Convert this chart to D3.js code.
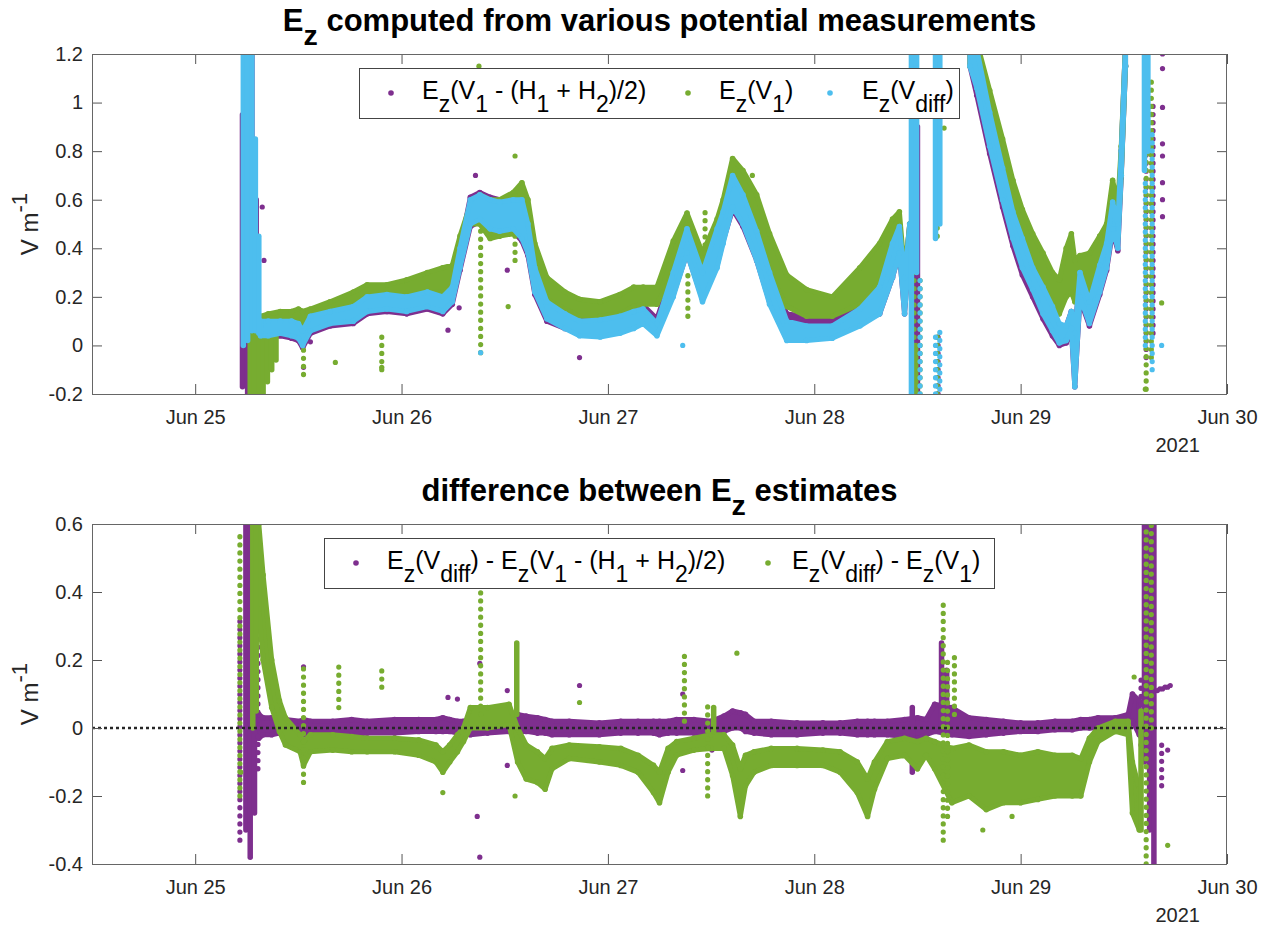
<!DOCTYPE html>
<html><head><meta charset="utf-8">
<script src="https://cdn.jsdelivr.net/npm/d3@7"></script>
<style>
body{margin:0;background:#fff}
text{font-family:"Liberation Sans",Arial,Helvetica,sans-serif;white-space:pre}
</style>
</head><body>
<svg id="c" width="1270" height="926"></svg>
<script>
// ---------------- DATA (hours after 2021-06-25 00:00 UTC) ----------------
const X_TICK_DAYS = ["2021-06-25","2021-06-26","2021-06-27","2021-06-28","2021-06-29","2021-06-30"];
const TOP_Y_TICKS = [-0.2,0,0.2,0.4,0.6,0.8,1,1.2];
const BOT_Y_TICKS = [-0.4,-0.2,0,0.2,0.4,0.6];

// top panel: band envelopes (low / high edge of the dense dot cloud)
const TOP_HOURS = [7.6,8.5,9.9,11.2,12.0,12.5,13.4,15.7,18.4,20.0, 22.3,24.6,27.0,28.8,29.9,30.8,32.0,33.1,34.3,35.4, 37.0,38.0,38.7,39.5,40.9,43.0,44.7,47.1,49.4,51.0, 52.1,53.7,55.6,57.2,59.0,60.7,61.4,62.5,63.7,65.3, 66.8,68.8,71.1,74.1,77.3,79.6,81.1,81.9,82.5,83.1, 85.5, 90.1,90.9,92.4,93.9,95.1,96.2,97.4,98.6,99.7, 100.5,101.3,101.9,102.3,102.9,104.0,105.2,106.0,106.7,107.3, 107.7,108.2];

const PURPLE_LO = [0.03,0.03,0.04,0.03,0.02,-0.01,0.05,0.08,0.09,0.13, 0.14,0.13,0.15,0.13,0.17,0.31,0.49,0.51,0.47,0.46, 0.47,0.43,0.37,0.21,0.10,0.07,0.05,0.05,0.07,0.09, 0.10,0.05,0.21,0.38,0.19,0.33,0.43,0.56,0.49,0.35, 0.18,0.05,0.05,0.05,0.09,0.13,0.28,0.38,0.13,0.40, null, 1.15,1.03,0.79,0.57,0.41,0.29,0.20,0.11,0.04, 0.00,0.01,0.06,-0.17,0.19,0.08,0.21,0.31,0.47,0.39, 0.69,1.15];
const PURPLE_HI = [0.10,0.10,0.10,0.10,0.09,0.06,0.12,0.14,0.16,0.20, 0.21,0.20,0.22,0.20,0.24,0.40,0.61,0.63,0.61,0.60, 0.61,0.60,0.50,0.32,0.18,0.14,0.12,0.12,0.14,0.155, 0.165,0.11,0.31,0.48,0.30,0.48,0.55,0.70,0.62,0.47, 0.31,0.13,0.12,0.12,0.16,0.24,0.42,0.49,0.28,0.50, null, 1.25,1.20,0.94,0.71,0.53,0.42,0.31,0.22,0.14, 0.08,0.08,0.14,0.05,0.30,0.18,0.33,0.42,0.59,0.50, 0.80,1.25];

const GREEN_LO = [0.06,0.07,0.08,0.08,0.09,0.07,0.09,0.12,0.15,0.18, 0.18,0.19,0.22,0.22,0.24,0.36,0.50,0.50,0.44,0.45, 0.46,0.48,0.42,0.28,0.19,0.15,0.12,0.12,0.13,0.16, 0.17,0.17,0.30,0.44,0.30,0.40,0.48,0.66,0.58,0.47, 0.30,0.16,0.12,0.12,0.17,0.26,0.40,0.45,0.20,0.42, null, 1.15,1.12,0.91,0.70,0.52,0.42,0.30,0.23,0.17, 0.13,0.20,0.22,0.18,0.20,0.22,0.30,0.38,0.54,0.45, 0.70,1.15];
const GREEN_HI = [0.12,0.13,0.14,0.14,0.15,0.14,0.15,0.18,0.22,0.25, 0.25,0.27,0.30,0.32,0.33,0.45,0.58,0.62,0.60,0.60, 0.63,0.67,0.60,0.42,0.28,0.22,0.19,0.18,0.21,0.24, 0.24,0.24,0.43,0.545,0.38,0.52,0.60,0.77,0.72,0.62, 0.46,0.29,0.23,0.20,0.32,0.42,0.52,0.55,0.30,0.50, null, 1.25,1.25,1.05,0.85,0.68,0.56,0.46,0.38,0.30, 0.27,0.40,0.46,0.35,0.37,0.38,0.45,0.50,0.68,0.58, 0.82,1.25];

const CYAN_LO = [0.04,0.04,0.05,0.04,0.03,0.00,0.06,0.09,0.10,0.14, 0.15,0.14,0.16,0.14,0.18,0.32,0.50,0.52,0.48,0.47, 0.48,0.44,0.38,0.22,0.11,0.07,0.04,0.035,0.05,0.07, 0.09,0.04,0.20,0.38,0.18,0.32,0.42,0.57,0.50,0.35, 0.17,0.02,0.02,0.03,0.08,0.13,0.28,0.38,0.13,0.40, null, 1.15,1.06,0.82,0.60,0.44,0.32,0.23,0.13,0.06, 0.01,0.02,0.07,-0.17,0.20,0.09,0.22,0.32,0.48,0.40, 0.70,1.15];
const CYAN_HI = [0.10,0.10,0.10,0.10,0.09,0.06,0.12,0.14,0.16,0.20, 0.21,0.20,0.22,0.20,0.24,0.40,0.60,0.62,0.60,0.59, 0.60,0.60,0.50,0.32,0.18,0.13,0.10,0.105,0.12,0.14, 0.15,0.09,0.30,0.48,0.30,0.48,0.55,0.70,0.62,0.47, 0.30,0.10,0.08,0.08,0.15,0.24,0.42,0.49,0.28,0.50, null, 1.25,1.22,0.96,0.73,0.55,0.44,0.32,0.24,0.16, 0.09,0.08,0.14,0.05,0.30,0.18,0.33,0.42,0.59,0.50, 0.80,1.25];

// top panel: vertical runs of dots [hour, low, high]; dense = solid runs, sparse = spaced dots
const PURPLE_TOP_DENSE = [[5.5,-0.17,0.95],[6.1,-0.2,1.1],[6.6,-0.2,1.2],[7.1,-0.2,0.6],[83.4,-0.2,1.25],[84.0,-0.2,0.9]];
const GREEN_TOP_DENSE = [[6.4,-0.2,0.06],[6.9,-0.2,0.08],[7.4,-0.2,0.06],[7.9,-0.2,0.08],[8.4,-0.15,0.09],[8.9,-0.1,0.09],[9.4,-0.06,0.1],[83.6,0.5,1.25],[83.8,-0.2,0.0]];
const CYAN_TOP_DENSE = [[5.6,0.0,1.25],[6.1,0.02,1.25],[6.6,0.06,1.25],[7.0,0.06,0.85],[7.4,0.05,0.45],[83.3,-0.2,1.25],[83.9,0.3,1.25],[86.1,0.44,1.25],[86.6,0.5,1.25],[110.4,0.72,1.25],[110.8,0.8,1.25]];
const PURPLE_TOP_SPARSE = [[110.6,-0.05,1.2],[111.4,0.05,1.0],[86.4,-0.2,0.05]];
const GREEN_TOP_SPARSE = [[12.6,-0.12,0.06],[21.7,-0.1,0.06],[33.2,-0.03,0.5],[37.2,0.35,0.62],[57.3,0.12,0.3],[59.3,0.38,0.55],[83.6,-0.2,0.5],[84.3,-0.2,0.3],[86.3,0.45,1.25],[86.3,-0.2,0.06],[110.6,-0.18,1.2],[111.2,-0.05,1.1]];
const CYAN_TOP_SPARSE = [[84.3,-0.2,0.3],[86.1,-0.2,0.06],[86.6,-0.18,0.06],[110.5,0.0,0.7],[111.3,-0.1,0.9]];
// top panel: isolated dots [hour, value]
const PURPLE_TOP_DOTS = [[7.8,0.57],[8.0,0.35],[12.6,-0.09],[13.4,0.015],[29.4,0.063],[30.7,0.155],[32.6,0.70],[36.3,0.31],[44.7,-0.05],[112.5,0.53],[112.5,0.6],[112.5,0.67],[112.5,0.78],[112.5,0.83],[112.5,0.98],[112.5,1.14],[112.5,1.2]];
const GREEN_TOP_DOTS = [[16.3,-0.07],[21.7,-0.09],[33.0,1.15],[36.4,0.16],[37.2,0.78],[64.8,0.7],[87.1,0.895],[110.5,-0.18],[112.4,0.175]];
const CYAN_TOP_DOTS = [[33.2,-0.03],[56.7,0.0],[112.4,0.0]];

// bottom panel: band envelopes
const BOT_HOURS = [7.4,7.9,8.9,9.8,10.5,12.2,12.6,13.4,16.0,18.2, 20.0,23.2,26.0,28.0,28.8,29.6,30.5,31.2,32.0,34.0, 36.5,37.5,38.5,39.8,40.7,41.5,43.5,47.0,49.5,51.5, 53.3,54.0,55.0,56.0,58.0,60.0,61.5,62.5,63.4,64.0, 65.0,67.0,70.0,73.0,75.0,77.0,78.2,79.0,80.5,82.5, 84.0,85.0,86.0,88.0,90.0,92.0,94.0,96.0,98.0,100.0, 102.0,103.0,104.0,105.0,107.0,108.5,109.0,109.8];
const DGREEN_LO = [0.35,0.2,0.06,-0.01,-0.05,-0.07,-0.11,-0.07,-0.065,-0.07, -0.07,-0.07,-0.08,-0.10,-0.13,-0.10,-0.07,-0.04,0.0,0.0, 0.01,-0.1,-0.15,-0.16,-0.18,-0.12,-0.09,-0.10,-0.11,-0.13, -0.19,-0.22,-0.13,-0.08,-0.065,-0.06,-0.06,-0.14,-0.26,-0.17, -0.13,-0.11,-0.11,-0.11,-0.13,-0.19,-0.26,-0.18,-0.09,-0.08, -0.12,-0.08,-0.12,-0.22,-0.20,-0.24,-0.22,-0.22,-0.21,-0.20, -0.20,-0.20,-0.1,-0.04,-0.01,-0.02,-0.25,-0.3];
const DGREEN_HI = [0.6,0.45,0.2,0.08,0.03,-0.02,-0.04,-0.02,-0.02,-0.025, -0.03,-0.03,-0.035,-0.05,-0.07,-0.05,-0.02,0.0,0.06,0.06, 0.07,0.0,-0.05,-0.07,-0.09,-0.06,-0.05,-0.055,-0.06,-0.08, -0.11,-0.13,-0.06,-0.04,-0.03,-0.02,-0.02,-0.05,-0.12,-0.08, -0.07,-0.06,-0.06,-0.065,-0.07,-0.1,-0.15,-0.1,-0.04,-0.03, -0.04,-0.03,-0.04,-0.06,-0.05,-0.07,-0.07,-0.08,-0.07,-0.08, -0.08,-0.09,-0.03,0.0,0.02,0.02,-0.1,-0.18];
const DPURPLE_LO = [-0.03,-0.02,-0.02,-0.015,-0.015,-0.02,-0.02,-0.015,-0.015,-0.02, -0.015,-0.015,-0.01,-0.01,-0.01,-0.01,-0.015,-0.015,-0.02,-0.015, -0.01,-0.01,-0.01,-0.015,-0.015,-0.02,-0.02,-0.02,-0.015,-0.015, -0.015,-0.02,-0.015,-0.015,-0.015,-0.02,-0.01,0.0,0.0,-0.01, -0.015,-0.02,-0.02,-0.015,-0.015,-0.02,-0.02,-0.02,-0.02,-0.025, -0.03,-0.02,-0.01,-0.02,-0.025,-0.02,-0.015,-0.01,-0.01,-0.005, -0.005,0.0,0.0,0.0,0.0,0.0,0.02,-0.02];
const DPURPLE_HI = [0.04,0.03,0.03,0.025,0.025,0.02,0.025,0.02,0.02,0.025, 0.02,0.025,0.025,0.025,0.03,0.025,0.02,0.02,0.02,0.02, 0.025,0.04,0.035,0.03,0.025,0.02,0.02,0.015,0.02,0.02, 0.02,0.02,0.02,0.025,0.025,0.02,0.035,0.05,0.045,0.04, 0.02,0.02,0.015,0.015,0.015,0.02,0.02,0.02,0.02,0.025, 0.03,0.025,0.07,0.06,0.03,0.025,0.02,0.015,0.015,0.02, 0.02,0.025,0.025,0.03,0.03,0.04,0.1,0.08];

const DPURPLE_DENSE = [[5.9,-0.3,0.6],[6.4,-0.38,0.6],[6.9,-0.25,0.6],[83.4,-0.13,0.06],[86.8,0.0,0.25],[87.4,0.0,0.17],[110.4,-0.1,0.6],[111.0,-0.3,0.6],[111.5,-0.4,0.6]];
const DPURPLE_SPARSE = [[5.2,-0.33,0.33],[7.3,-0.12,0.45],[110.0,-0.05,0.15],[112.4,-0.17,-0.04]];
const DGREEN_DENSE = [[6.7,0.0,0.6],[7.1,0.05,0.6],[37.4,0.04,0.25],[60.3,-0.01,0.06],[110.0,-0.3,0.05]];
const DGREEN_SPARSE = [[5.2,-0.2,0.57],[12.6,-0.16,0.19],[16.7,0.06,0.18],[21.7,0.12,0.17],[33.2,0.04,0.42],[56.9,0.02,0.22],[59.6,-0.2,0.07],[87.0,-0.33,0.38],[87.5,-0.26,0.2],[88.3,0.04,0.21],[110.6,-0.4,0.6],[111.2,0.0,0.6]];
const DPURPLE_DOTS = [[12.6,0.18],[12.6,-0.08],[16.3,-0.045],[29.4,0.09],[30.5,0.085],[32.8,-0.26],[33.1,-0.38],[33.1,0.19],[36.3,0.11],[36.3,-0.11],[44.7,0.125],[56.7,0.1],[56.7,-0.125],[60.1,-0.065],[99.7,-0.09],[111.9,0.11],[112.2,0.115],[112.5,0.115],[112.8,0.12],[113.1,0.12],[113.4,0.125],[113.1,-0.065]];
const DGREEN_DOTS = [[5.3,-0.13],[28.8,-0.19],[37.2,-0.2],[44.7,0.075],[63.0,0.22],[91.6,-0.3],[95.0,-0.26],[109.2,0.15],[113.1,-0.345]];

const LEGEND_TOP = ["E_z(V_1 - (H_1 + H_2)/2)", "E_z(V_1)", "E_z(V_{diff})"];
const LEGEND_BOT = ["E_z(V_{diff}) - E_z(V_1 - (H_1 + H_2)/2)", "E_z(V_{diff}) - E_z(V_1)"];

// ---------------- STYLE ----------------
const C_PURPLE = "#7E2F8E", C_GREEN = "#77AC30", C_CYAN = "#4DBEEE";
const svg = d3.select("#c");
const X0 = 92, X1 = 1227;
const T0 = Date.UTC(2021,5,25);
const x = d3.scaleUtc().domain([new Date(Date.UTC(2021,5,24,12)), new Date(Date.UTC(2021,5,30))]).range([X0, X1]);
const hx = h => x(new Date(T0 + h*3600e3));

function parseTex(s){
  const out=[]; let i=0, buf='';
  while(i<s.length){
    const c=s[i];
    if(c==='_'||c==='^'){
      if(buf){out.push({t:buf}); buf='';}
      let g;
      if(s[i+1]==='{'){const j=s.indexOf('}',i); g=s.slice(i+2,j); i=j+1;}
      else {g=s[i+1]; i+=2;}
      out.push({t:g, sub:c==='_', sup:c==='^'});
    } else {buf+=c; i++;}
  }
  if(buf) out.push({t:buf});
  return out;
}
function tex(sel, s, size, subShift){
  let shift = 0;
  const ss = subShift || 0.5;
  parseTex(s).forEach(p=>{
    const target = p.sub ? size*ss : (p.sup ? -size*0.45 : 0);
    const ts = sel.append("tspan").text(p.t).attr("dy", target - shift);
    if(p.sub||p.sup) ts.attr("font-size", size*0.92);
    shift = target;
  });
  return sel;
}

function panel(o){
  const y = d3.scaleLinear().domain(o.yDomain).range([o.yBot, o.yTop]);
  const id = "clip"+o.yTop;
  svg.append("clipPath").attr("id", id).append("rect")
    .attr("x", X0).attr("y", o.yTop).attr("width", X1-X0).attr("height", o.yBot-o.yTop);
  const g = svg.append("g").attr("clip-path", `url(#${id})`);

  o.series.forEach(s=>{
    const pts = o.hours.map((h,i)=>({h, lo:s.lo[i], hi:s.hi[i]}));
    const area = d3.area().defined(d=>d.lo!=null).x(d=>hx(d.h)).y0(d=>y(d.lo)).y1(d=>y(d.hi));
    g.append("path").attr("d", area(pts)).attr("fill", s.color)
      .attr("stroke", s.color).attr("stroke-width", 5).attr("stroke-linejoin","round");
    const edge = pts.filter(d=>d.lo!=null).flatMap(d=>[[d.h,d.lo],[d.h,d.hi]]);
    g.selectAll(null).data(edge).join("circle")
      .attr("cx", d=>hx(d[0])).attr("cy", d=>y(d[1])).attr("r", 2.8).attr("fill", s.color);
    g.selectAll(null).data(s.dense).join("line")
      .attr("x1", d=>hx(d[0])).attr("x2", d=>hx(d[0]))
      .attr("y1", d=>y(d[1])).attr("y2", d=>y(d[2]))
      .attr("stroke", s.color).attr("stroke-width", 5.5).attr("stroke-linecap","round");
    g.selectAll(null).data(s.sparse).join("line")
      .attr("x1", d=>hx(d[0])).attr("x2", d=>hx(d[0]))
      .attr("y1", d=>y(d[1])).attr("y2", d=>y(d[2]))
      .attr("stroke", s.color).attr("stroke-width", 5.2).attr("stroke-linecap","round")
      .attr("stroke-dasharray","0.1 8");
    g.selectAll(null).data(s.dots).join("circle")
      .attr("cx", d=>hx(d[0])).attr("cy", d=>y(d[1])).attr("r", 2.6).attr("fill", s.color);
  });

  if(o.zeroLine){
    svg.append("line").attr("x1", X0).attr("x2", X1).attr("y1", y(0)).attr("y2", y(0))
      .attr("stroke", "#262626").attr("stroke-width", 2.6).attr("stroke-dasharray", "3 3");
  }

  // axes (ticks inward, box)
  const days = X_TICK_DAYS.map(s=>new Date(s+"T00:00:00Z"));
  const fmtDay = d3.utcFormat("%b %d");
  const ax = (gen, tr) => {
    const a = svg.append("g").attr("transform", tr).call(gen);
    a.select(".domain").remove();
    a.selectAll(".tick line").attr("stroke", "#555").attr("stroke-width", 1);
    a.selectAll("text").attr("fill", "#262626").attr("font-size", 20)
      .attr("font-family", '"Liberation Sans",Arial,sans-serif');
    return a;
  };
  ax(d3.axisBottom(x).tickValues(days).tickFormat(fmtDay).tickSize(-10).tickPadding(16), `translate(0,${o.yBot})`);
  ax(d3.axisTop(x).tickValues(days).tickFormat("").tickSize(-10), `translate(0,${o.yTop})`);
  ax(d3.axisLeft(y).tickValues(o.yTicks).tickFormat(d=>String(+d.toFixed(1))).tickSize(-10).tickPadding(9), `translate(${X0},0)`);
  ax(d3.axisRight(y).tickValues(o.yTicks).tickFormat("").tickSize(-10), `translate(${X1},0)`);
  svg.append("rect").attr("x", X0+0.5).attr("y", o.yTop+0.5).attr("width", X1-X0-1).attr("height", o.yBot-o.yTop)
    .attr("fill","none").attr("stroke","#666").attr("stroke-width",1);

  svg.append("text").attr("x", 1200).attr("y", o.yBot+58).attr("text-anchor","end")
    .attr("font-size", 20).attr("fill","#262626").text("2021");

  // title
  tex(svg.append("text").attr("x", (X0+X1)/2).attr("y", o.yTop-23).attr("text-anchor","middle")
    .attr("font-size", 31).attr("font-weight","bold").attr("fill","#000"), o.title, 31, 0.45);

  // y label
  tex(svg.append("text").attr("transform", `translate(38,${(o.yTop+o.yBot)/2}) rotate(-90)`)
    .attr("text-anchor","middle").attr("font-size", 24).attr("fill","#262626"), "V m^{-1}", 24);

  // legend
  const L = o.legend;
  svg.append("rect").attr("x", L.x+0.5).attr("y", L.y+0.5).attr("width", L.w).attr("height", L.h)
    .attr("fill","#fff").attr("stroke","#444").attr("stroke-width",1);
  L.items.forEach(it=>{
    svg.append("circle").attr("cx", it.mx).attr("cy", L.y+L.h/2).attr("r", 2.8).attr("fill", it.color);
    tex(svg.append("text").attr("x", it.tx).attr("y", L.y+31).attr("font-size", 25).attr("fill","#000"), it.label, 25, 0.5);
  });
}

panel({
  yTop: 54, yBot: 394, yDomain: [-0.2, 1.2], yTicks: TOP_Y_TICKS,
  title: "E_z computed from various potential measurements",
  hours: TOP_HOURS,
  series: [
    {color: C_PURPLE, lo: PURPLE_LO, hi: PURPLE_HI, dense: PURPLE_TOP_DENSE, sparse: PURPLE_TOP_SPARSE, dots: PURPLE_TOP_DOTS},
    {color: C_GREEN, lo: GREEN_LO, hi: GREEN_HI, dense: GREEN_TOP_DENSE, sparse: GREEN_TOP_SPARSE, dots: GREEN_TOP_DOTS},
    {color: C_CYAN, lo: CYAN_LO, hi: CYAN_HI, dense: CYAN_TOP_DENSE, sparse: CYAN_TOP_SPARSE, dots: CYAN_TOP_DOTS}
  ],
  legend: {x: 359, y: 68, w: 600, h: 50, items: [
    {label: LEGEND_TOP[0], color: C_PURPLE, mx: 391, tx: 422},
    {label: LEGEND_TOP[1], color: C_GREEN, mx: 688, tx: 719},
    {label: LEGEND_TOP[2], color: C_CYAN, mx: 830, tx: 862}
  ]}
});

panel({
  yTop: 524, yBot: 864, yDomain: [-0.4, 0.6], yTicks: BOT_Y_TICKS, zeroLine: true,
  title: "difference between E_z estimates",
  hours: BOT_HOURS,
  series: [
    {color: C_PURPLE, lo: DPURPLE_LO, hi: DPURPLE_HI, dense: DPURPLE_DENSE, sparse: DPURPLE_SPARSE, dots: DPURPLE_DOTS},
    {color: C_GREEN, lo: DGREEN_LO, hi: DGREEN_HI, dense: DGREEN_DENSE, sparse: DGREEN_SPARSE, dots: DGREEN_DOTS}
  ],
  legend: {x: 324, y: 538, w: 670, h: 50, items: [
    {label: LEGEND_BOT[0], color: C_PURPLE, mx: 356, tx: 387},
    {label: LEGEND_BOT[1], color: C_GREEN, mx: 768, tx: 792}
  ]}
});
</script>
</body></html>
